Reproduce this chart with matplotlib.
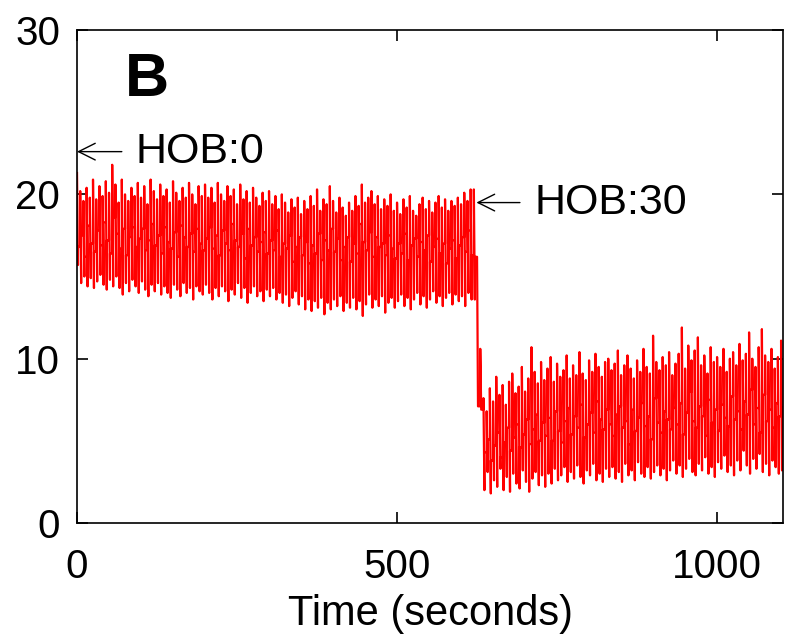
import numpy as np
import matplotlib
matplotlib.use('Agg')
import matplotlib.pyplot as plt

plt.rcParams['font.family'] = ['Liberation Sans', 'DejaVu Sans']

# one oscillation every 5 s: top, bottom and the level it rests at afterwards
step = 5.0

# HOB:0 part (0 - 620 s)
tops_hi = [21.3, 20.2, 19.6, 20.4, 19.8, 20.9, 19.7, 20.5, 19.9, 20.8, 20.1, 21.8, 20.6, 19.5, 20.9, 20.0, 19.6, 20.4, 19.9, 20.7,
           19.8, 20.5, 19.4, 20.9, 20.2, 19.7, 20.6, 19.9, 20.3, 19.5, 20.8, 20.1, 19.6, 20.4, 19.8, 20.7, 20.0, 19.4, 20.5, 19.9,
           20.6, 19.8, 20.4, 19.5, 20.7, 20.0, 19.6, 20.5, 19.9, 20.3, 19.4, 20.6, 19.7, 20.2, 19.5, 20.4, 19.8, 19.3, 20.1, 19.6,
           20.2, 19.4, 19.9, 19.1, 20.0, 19.5, 18.9, 19.7, 19.2, 19.8, 18.8, 19.6, 19.1, 19.9, 19.3, 20.3, 19.0, 19.7, 19.4, 20.5,
           19.6, 18.9, 19.8, 19.2, 18.7, 19.5, 19.0, 19.9, 19.3, 20.6, 19.5, 19.8, 20.2, 19.4, 19.9, 19.1, 19.7, 19.3, 20.0, 19.0,
           19.5, 18.8, 19.7, 19.2, 19.9, 19.0, 18.7, 19.4, 19.8, 19.1, 19.6, 18.9, 19.5, 19.9, 19.2, 19.7, 19.0, 19.6, 19.3, 19.8,
           19.4, 20.1, 19.6, 20.3, 20.3]
bottoms_hi = [15.7, 14.6, 15.0, 14.4, 14.9, 14.3, 14.7, 15.1, 14.5, 14.2, 14.8, 14.4, 15.0, 14.3, 13.9, 14.6, 14.1, 14.8, 14.4, 14.0,
              14.7, 14.2, 13.8, 14.5, 14.1, 14.6, 13.9, 14.4, 14.0, 13.7, 14.5, 14.2, 13.8, 14.6, 14.0, 14.3, 13.6, 14.4, 14.1, 13.9,
              14.5, 14.0, 13.6, 14.3, 13.8, 14.4, 14.1, 13.5, 14.2, 13.9, 14.6, 13.7, 14.3, 13.4, 14.0, 14.4, 13.8, 14.1, 13.5, 14.2,
              13.8, 14.3, 13.6, 14.0, 13.4, 13.9, 13.2, 13.7, 14.1, 13.3, 13.8, 13.0, 13.6, 12.9, 13.5, 13.1, 13.7, 12.7, 13.4, 13.0,
              13.6, 13.2, 13.8, 12.9, 13.4, 13.1, 13.7, 13.0, 13.5, 12.6, 13.3, 13.9, 13.1, 13.6, 13.2, 13.8, 12.8, 13.4, 13.7, 13.1,
              13.5, 13.9, 13.2, 13.7, 13.0, 13.6, 14.0, 13.3, 13.8, 13.1, 13.6, 14.1, 13.4, 13.8, 13.2, 13.7, 14.0, 13.3, 13.9, 13.5,
              13.8, 13.2, 14.0, 13.6, 13.6]
mids_hi = [16.8, 17.5, 16.2, 18.1, 17.0, 16.5, 17.8, 16.9, 18.3, 17.2, 16.4, 18.6, 17.6, 16.7, 17.9, 16.3, 17.4, 18.0, 16.8, 17.3,
           17.9, 16.6, 17.2, 18.2, 16.9, 17.5, 16.4, 18.0, 17.1, 16.7, 17.7, 16.2, 18.1, 17.4, 16.8, 17.6, 16.5, 17.9, 17.0, 16.6,
           17.3, 18.0, 16.7, 17.5, 16.3, 17.8, 17.0, 16.6, 18.2, 17.2, 16.8, 17.6, 16.1, 17.9, 16.9, 17.4, 16.5, 17.1, 17.7, 16.4,
           17.2, 16.6, 17.8, 16.2, 17.0, 16.7, 17.5, 15.9, 16.8, 17.4, 16.3, 17.1, 15.8, 16.9, 16.4, 17.6, 16.0, 17.2, 16.6, 17.9,
           16.5, 17.3, 16.0, 16.8, 17.4, 15.9, 17.0, 16.4, 18.2, 17.1, 16.6, 17.7, 16.2, 17.4, 16.8, 17.0, 16.3, 17.5, 16.7, 16.1,
           17.0, 16.4, 17.6, 16.0, 16.9, 17.3, 16.2, 17.1, 16.6, 17.5, 15.9, 16.8, 17.3, 16.4, 17.0, 15.8, 16.7, 17.2, 16.1, 16.9,
           17.4, 16.5, 17.8, 16.3, 16.2]

# the drop after the change of HOB
tops_drop = [16.2, 10.6]
bottoms_drop = [7.1, 7.0]
mids_drop = [7.1, 6.9]

# HOB:30 part (635 - 1100 s)
tops_lo = [7.6, 6.8, 8.2, 7.4, 8.9, 7.8, 8.4, 7.2, 8.6, 9.1, 7.9, 8.3, 9.5, 8.0, 8.8, 10.7, 9.2, 8.5, 9.8, 8.7,
           9.4, 10.1, 8.6, 9.7, 8.9, 9.3, 10.2, 8.8, 9.6, 9.0, 10.4, 9.1, 8.7, 9.9, 9.2, 10.3, 9.5, 8.9, 9.8, 10.0,
           9.3, 9.7, 10.5, 9.0, 9.6, 10.2, 9.4, 8.8, 9.9, 9.2, 10.6, 9.5, 9.1, 11.4, 9.8, 9.3, 10.1, 9.6, 10.4, 9.0,
           9.7, 10.3, 11.9, 9.4, 10.8, 9.9, 10.5, 11.3, 9.6, 10.2, 9.1, 10.7, 9.8, 10.1, 9.5, 10.6, 9.2, 10.0, 10.4, 9.6,
           10.9, 9.9, 10.3, 11.6, 10.0, 9.5, 10.7, 11.8, 10.2, 9.8, 10.6, 9.4, 10.1, 11.1]
bottoms_lo = [2.0, 3.1, 1.8, 2.6, 2.2, 3.3, 2.0, 2.8, 1.9, 3.0, 2.4, 2.1, 3.2, 2.5, 1.9, 2.7, 3.1, 2.3, 2.9, 2.2,
              3.0, 2.4, 3.3, 2.6, 2.9, 3.4, 2.5, 3.1, 2.7, 3.5, 2.8, 2.4, 3.2, 2.9, 3.6, 2.6, 3.0, 2.5, 3.3, 2.8,
              3.4, 2.7, 3.1, 2.5, 3.6, 2.9, 3.2, 2.6, 3.7, 3.0, 2.8, 3.4, 2.7, 3.1, 3.5, 2.9, 3.3, 2.6, 3.2, 3.8,
              3.0, 3.5, 2.8, 3.3, 3.9, 3.1, 2.9, 3.6, 3.2, 4.0, 3.0, 3.4, 2.8, 3.7, 3.3, 4.1, 3.1, 3.5, 2.9, 3.8,
              3.2, 4.4, 3.5, 3.0, 3.9, 3.3, 4.2, 3.1, 3.6, 2.9, 3.8, 3.4, 3.0, 3.2]
mids_lo = [4.3, 5.1, 3.8, 4.7, 5.5, 4.0, 4.9, 5.8, 4.4, 5.2, 6.0, 4.6, 5.4, 6.3, 4.8, 5.7, 6.6, 5.0, 6.1, 5.3,
           6.4, 5.0, 6.8, 5.6, 4.9, 6.2, 7.0, 5.4, 6.5, 5.8, 7.2, 5.2, 6.0, 6.7, 5.5, 7.4, 6.3, 5.7, 6.9, 6.0,
           5.3, 6.6, 7.1, 5.8, 6.2, 4.8, 6.9, 5.6, 6.4, 7.3, 5.9, 6.5, 5.1, 7.6, 6.1, 5.5, 6.8, 6.3, 5.7, 7.0,
           6.0, 7.3, 5.4, 6.7, 8.0, 6.2, 5.8, 7.1, 6.5, 5.3, 7.5, 6.1, 6.9, 5.6, 7.2, 6.4, 5.9, 7.7, 6.3, 6.8,
           5.7, 7.4, 6.6, 8.1, 6.0, 7.0, 5.5, 7.8, 6.2, 6.9, 5.8, 7.3, 6.5, 7.0]

tops = tops_hi + tops_drop + tops_lo
bottoms = bottoms_hi + bottoms_drop + bottoms_lo
mids = mids_hi + mids_drop + mids_lo
assert len(tops) == len(bottoms) == len(mids), (len(tops), len(bottoms), len(mids))

# build the trace: rest level -> top -> bottom -> next rest level
xs, ys = [], []
prev = tops[0]
for i in range(len(tops)):
    t = i * step
    xs += [t, t, t + 1.5, t + 1.5]
    ys += [prev, tops[i], bottoms[i], mids[i]]
    prev = mids[i]

fig = plt.figure(figsize=(7.89, 6.43), dpi=100)
ax = fig.add_axes([0.0976, 0.1866, 0.8948, 0.7667])
ax.plot(xs, ys, color='#ff0000', lw=1.6)

ax.set_xlim(0, 1103)
ax.set_ylim(0, 30)
ax.set_xticks([0, 500, 1000])
ax.set_yticks([0, 10, 20, 30])
ax.tick_params(direction='in', length=8, width=1.2, top=True, right=True,
               labelsize=29)
ax.tick_params(axis='x', pad=18)
ax.tick_params(axis='y', pad=12)
for s in ax.spines.values():
    s.set_linewidth(1.2)
ax.set_xlabel('Time (seconds)', fontsize=30, labelpad=6)

ax.text(75, 26.9, 'B', fontsize=44, fontweight='bold', va='center', ha='left')

arr = dict(arrowstyle='->,head_length=0.6,head_width=0.3', lw=1, color='k',
           mutation_scale=20, shrinkA=0, shrinkB=0)
ax.annotate('', xy=(0, 22.6), xytext=(70, 22.6), arrowprops=arr)
ax.text(92, 22.6, 'HOB:0', fontsize=31, va='center', ha='left')
ax.annotate('', xy=(624, 19.5), xytext=(692, 19.5), arrowprops=arr)
ax.text(714, 19.5, 'HOB:30', fontsize=31, va='center', ha='left')

fig.savefig('out.png', dpi=100)
